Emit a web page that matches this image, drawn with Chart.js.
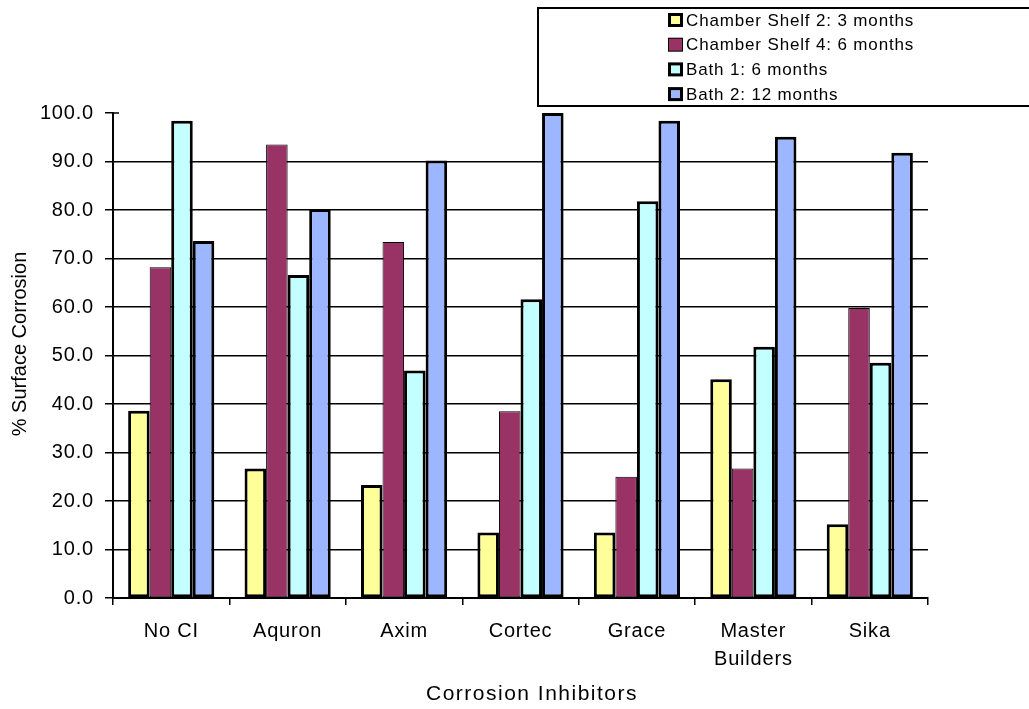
<!DOCTYPE html>
<html>
<head>
<meta charset="utf-8">
<title>Corrosion Inhibitors</title>
<script src="https://cdn.jsdelivr.net/npm/chart.js@4/dist/chart.umd.min.js"></script>
<style>
  html, body { margin: 0; padding: 0; background: #fff; }
  #wrap { width: 1029px; height: 709px; position: relative; }
</style>
</head>
<body>
<div id="wrap"><canvas id="grafico"></canvas></div>
<script>
// Dados do gráfico
const categories = ['No CI', 'Aquron', 'Axim', 'Cortec', 'Grace', ['Master', 'Builders'], 'Sika'];
const seriesNames = ['Chamber Shelf 2: 3 months', 'Chamber Shelf 4: 6 months', 'Bath 1: 6 months', 'Bath 2: 12 months'];
const shelf2 = [38.6, 26.7, 23.3, 13.5, 13.5, 45.1, 15.2];
const shelf4 = [68.2, 93.5, 73.4, 38.5, 25.0, 26.7, 59.8];
const bath1 = [98.4, 66.6, 46.9, 61.6, 81.8, 51.8, 48.5];
const bath2 = [73.6, 80.2, 90.2, 100.0, 98.4, 95.1, 91.8];
const yTicks = [0, 10, 20, 30, 40, 50, 60, 70, 80, 90, 100];
const xTitle = 'Corrosion Inhibitors';
const yTitle = '% Surface Corrosion';

const fillColors = ['#FFFF99', '#993366', '#C4FFFF', '#9CB6FF'];
const borderWidths = [3, 1, 3, 3];
const FONT = 'Arial, "Liberation Sans", sans-serif';

// Espaçamento entre letras parecido com o original
const spacing = {
    id: 'spacing',
    beforeDraw(chart) {
        chart.ctx.letterSpacing = '0.8px';
    }
};

// Títulos dos eixos, legenda em caixa e marca de 100 que cruza o eixo
const extras = {
    id: 'extras',
    afterDraw(chart) {
        const ctx = chart.ctx;
        const yScale = chart.scales.y;

        ctx.save();
        // marca do 100 cruzando o eixo
        const y100 = yScale.getPixelForValue(100);
        ctx.strokeStyle = '#000';
        ctx.lineWidth = 1.5;
        ctx.beginPath();
        ctx.moveTo(yScale.right, y100);
        ctx.lineTo(yScale.right + 6, y100);
        ctx.stroke();

        // títulos
        ctx.fillStyle = '#000';
        ctx.textAlign = 'center';
        ctx.textBaseline = 'middle';
        ctx.letterSpacing = '1.5px';
        ctx.font = '21px ' + FONT;
        ctx.fillText(xTitle, 532, 694);

        ctx.letterSpacing = '0px';
        ctx.font = '20px ' + FONT;
        ctx.translate(20, 344);
        ctx.rotate(-Math.PI / 2);
        ctx.fillText(yTitle, 0, 0);
        ctx.restore();

        // legenda
        ctx.save();
        ctx.fillStyle = '#fff';
        ctx.fillRect(538, 8, 500, 98);
        ctx.strokeStyle = '#000';
        ctx.lineWidth = 2;
        ctx.strokeRect(538, 8, 500, 98);

        ctx.letterSpacing = '0.85px';
        ctx.font = '17px ' + FONT;
        ctx.textBaseline = 'middle';
        ctx.textAlign = 'left';
        chart.data.datasets.forEach((ds, i) => {
            const y = 20 + i * 24.7;
            const bw = ds.borderWidth;
            ctx.fillStyle = '#000';
            ctx.fillRect(668, y - 7, 15, 14);
            ctx.fillStyle = ds.backgroundColor;
            ctx.fillRect(668 + bw, y - 7 + bw, 15 - 2 * bw, 14 - 2 * bw);
            ctx.fillStyle = '#000';
            ctx.fillText(ds.label, 686, y + 1);
        });
        ctx.restore();
    }
};

const datasets = [shelf2, shelf4, bath1, bath2].map((values, i) => ({
    label: seriesNames[i],
    data: values,
    backgroundColor: fillColors[i],
    borderColor: '#000',
    borderWidth: borderWidths[i],
    borderSkipped: false,
    categoryPercentage: 0.74,
    barPercentage: 1.0
}));

const ctx = document.getElementById('grafico').getContext('2d');
new Chart(ctx, {
    type: 'bar',
    data: { labels: categories, datasets: datasets },
    options: {
        responsive: true,
        maintainAspectRatio: false,
        animation: false,
        layout: { padding: { top: 113, right: 101, left: 0, bottom: 0 } },
        plugins: {
            legend: { display: false },
            tooltip: { enabled: false }
        },
        scales: {
            x: {
                afterFit(scale) { scale.height = 111; },
                grid: {
                    display: true,
                    offset: true,
                    drawOnChartArea: false,
                    drawTicks: true,
                    tickLength: 7,
                    color: '#000',
                    lineWidth: 1.5
                },
                border: { display: true, color: '#000', width: 2 },
                ticks: {
                    color: '#000',
                    padding: 12,
                    font: { family: FONT, size: 20, lineHeight: 1.4 },
                    maxRotation: 0,
                    autoSkip: false
                },
                title: { display: false }
            },
            y: {
                min: 0,
                max: 100,
                afterFit(scale) { scale.width = 113; },
                afterBuildTicks(scale) { scale.ticks = yTicks.map(v => ({ value: v })); },
                grid: {
                    color: c => (c.tick && c.tick.value === 100) ? 'rgba(0,0,0,0)' : '#000',
                    tickColor: '#000',
                    lineWidth: 1.5,
                    drawTicks: true,
                    tickLength: 8
                },
                border: { display: true, color: '#000', width: 2 },
                ticks: {
                    color: '#000',
                    padding: 11,
                    font: { family: FONT, size: 20 },
                    callback: v => Number(v).toFixed(1)
                },
                title: { display: false }
            }
        }
    },
    plugins: [spacing, extras]
});
</script>
</body>
</html>
